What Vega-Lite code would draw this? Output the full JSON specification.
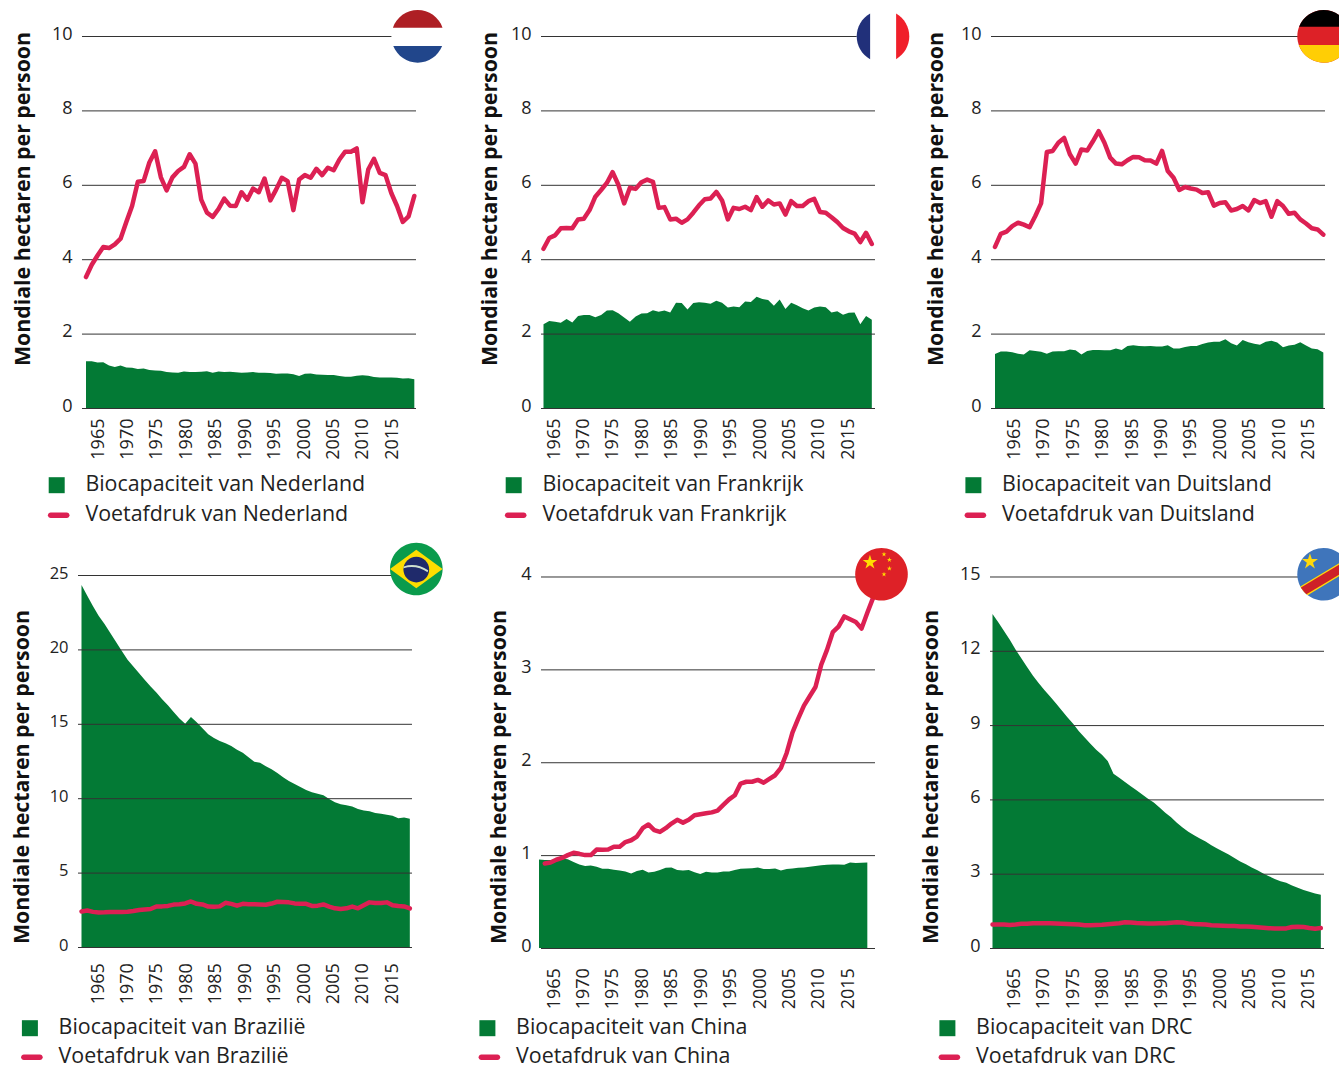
{"$schema":"https://vega.github.io/schema/vega-lite/v6.json","padding":{"left":11,"top":10,"right":0,"bottom":0},"background":"white","bounds":"flush","align":"each","columns":3,"spacing":{"row":167,"column":115},"resolve":{"scale":{"color":"independent","shape":"independent"}},
"config":{"view":{"stroke":null},"font":"Open Sans","axis":{"labelFont":"Open Sans","titleFont":"Open Sans","labelColor":"#222","titleColor":"#111"},"legend":{"labelFont":"Open Sans"}},
"datasets":{
"nl":[{"year":1961,"bio":1.26,"foot":3.52},{"year":1962,"bio":1.26,"foot":3.85},{"year":1963,"bio":1.22,"foot":4.1},{"year":1964,"bio":1.23,"foot":4.33},{"year":1965,"bio":1.14,"foot":4.3},{"year":1966,"bio":1.1,"foot":4.4},{"year":1967,"bio":1.14,"foot":4.55},{"year":1968,"bio":1.09,"foot":5.0},{"year":1969,"bio":1.085,"foot":5.43},{"year":1970,"bio":1.05,"foot":6.08},{"year":1971,"bio":1.06,"foot":6.1},{"year":1972,"bio":1.02,"foot":6.6},{"year":1973,"bio":1.01,"foot":6.9},{"year":1974,"bio":1.0,"foot":6.2},{"year":1975,"bio":0.97,"foot":5.85},{"year":1976,"bio":0.955,"foot":6.2},{"year":1977,"bio":0.95,"foot":6.37},{"year":1978,"bio":0.98,"foot":6.48},{"year":1979,"bio":0.97,"foot":6.82},{"year":1980,"bio":0.97,"foot":6.57},{"year":1981,"bio":0.975,"foot":5.6},{"year":1982,"bio":0.985,"foot":5.25},{"year":1983,"bio":0.95,"foot":5.14},{"year":1984,"bio":0.98,"foot":5.35},{"year":1985,"bio":0.97,"foot":5.63},{"year":1986,"bio":0.975,"foot":5.44},{"year":1987,"bio":0.96,"foot":5.43},{"year":1988,"bio":0.95,"foot":5.8},{"year":1989,"bio":0.955,"foot":5.6},{"year":1990,"bio":0.965,"foot":5.9},{"year":1991,"bio":0.945,"foot":5.8},{"year":1992,"bio":0.95,"foot":6.17},{"year":1993,"bio":0.94,"foot":5.58},{"year":1994,"bio":0.92,"foot":5.87},{"year":1995,"bio":0.925,"foot":6.19},{"year":1996,"bio":0.93,"foot":6.1},{"year":1997,"bio":0.905,"foot":5.32},{"year":1998,"bio":0.86,"foot":6.14},{"year":1999,"bio":0.92,"foot":6.26},{"year":2000,"bio":0.925,"foot":6.19},{"year":2001,"bio":0.9,"foot":6.43},{"year":2002,"bio":0.895,"foot":6.26},{"year":2003,"bio":0.89,"foot":6.46},{"year":2004,"bio":0.885,"foot":6.39},{"year":2005,"bio":0.86,"foot":6.68},{"year":2006,"bio":0.84,"foot":6.89},{"year":2007,"bio":0.84,"foot":6.89},{"year":2008,"bio":0.865,"foot":6.98},{"year":2009,"bio":0.88,"foot":5.53},{"year":2010,"bio":0.87,"foot":6.41},{"year":2011,"bio":0.83,"foot":6.7},{"year":2012,"bio":0.82,"foot":6.32},{"year":2013,"bio":0.82,"foot":6.26},{"year":2014,"bio":0.82,"foot":5.78},{"year":2015,"bio":0.81,"foot":5.43},{"year":2016,"bio":0.79,"foot":5.0},{"year":2017,"bio":0.8,"foot":5.15},{"year":2018,"bio":0.77,"foot":5.7}],
"fr":[{"year":1961,"bio":2.25,"foot":4.28},{"year":1962,"bio":2.34,"foot":4.57},{"year":1963,"bio":2.32,"foot":4.64},{"year":1964,"bio":2.29,"foot":4.83},{"year":1965,"bio":2.39,"foot":4.84},{"year":1966,"bio":2.3,"foot":4.83},{"year":1967,"bio":2.47,"foot":5.07},{"year":1968,"bio":2.5,"foot":5.09},{"year":1969,"bio":2.5,"foot":5.32},{"year":1970,"bio":2.44,"foot":5.68},{"year":1971,"bio":2.5,"foot":5.86},{"year":1972,"bio":2.62,"foot":6.05},{"year":1973,"bio":2.63,"foot":6.34},{"year":1974,"bio":2.55,"foot":6.0},{"year":1975,"bio":2.43,"foot":5.5},{"year":1976,"bio":2.32,"foot":5.92},{"year":1977,"bio":2.46,"foot":5.89},{"year":1978,"bio":2.54,"foot":6.07},{"year":1979,"bio":2.55,"foot":6.14},{"year":1980,"bio":2.63,"foot":6.08},{"year":1981,"bio":2.59,"foot":5.38},{"year":1982,"bio":2.62,"foot":5.4},{"year":1983,"bio":2.57,"foot":5.07},{"year":1984,"bio":2.83,"foot":5.09},{"year":1985,"bio":2.82,"foot":4.98},{"year":1986,"bio":2.65,"foot":5.07},{"year":1987,"bio":2.82,"foot":5.25},{"year":1988,"bio":2.84,"foot":5.45},{"year":1989,"bio":2.83,"foot":5.61},{"year":1990,"bio":2.8,"foot":5.63},{"year":1991,"bio":2.88,"foot":5.81},{"year":1992,"bio":2.83,"foot":5.58},{"year":1993,"bio":2.7,"foot":5.07},{"year":1994,"bio":2.73,"foot":5.38},{"year":1995,"bio":2.71,"foot":5.35},{"year":1996,"bio":2.86,"foot":5.41},{"year":1997,"bio":2.85,"foot":5.32},{"year":1998,"bio":2.99,"foot":5.67},{"year":1999,"bio":2.93,"foot":5.41},{"year":2000,"bio":2.9,"foot":5.58},{"year":2001,"bio":2.75,"foot":5.47},{"year":2002,"bio":2.92,"foot":5.5},{"year":2003,"bio":2.66,"foot":5.2},{"year":2004,"bio":2.83,"foot":5.56},{"year":2005,"bio":2.76,"foot":5.43},{"year":2006,"bio":2.68,"foot":5.43},{"year":2007,"bio":2.62,"foot":5.56},{"year":2008,"bio":2.7,"foot":5.62},{"year":2009,"bio":2.73,"foot":5.27},{"year":2010,"bio":2.71,"foot":5.25},{"year":2011,"bio":2.57,"foot":5.13},{"year":2012,"bio":2.6,"foot":5.0},{"year":2013,"bio":2.51,"foot":4.84},{"year":2014,"bio":2.56,"foot":4.75},{"year":2015,"bio":2.57,"foot":4.69},{"year":2016,"bio":2.25,"foot":4.46},{"year":2017,"bio":2.47,"foot":4.71},{"year":2018,"bio":2.37,"foot":4.41}],
"de":[{"year":1961,"bio":1.45,"foot":4.33},{"year":1962,"bio":1.52,"foot":4.68},{"year":1963,"bio":1.52,"foot":4.74},{"year":1964,"bio":1.5,"foot":4.89},{"year":1965,"bio":1.46,"foot":4.98},{"year":1966,"bio":1.44,"foot":4.93},{"year":1967,"bio":1.55,"foot":4.86},{"year":1968,"bio":1.53,"foot":5.16},{"year":1969,"bio":1.51,"foot":5.5},{"year":1970,"bio":1.46,"foot":6.88},{"year":1971,"bio":1.52,"foot":6.91},{"year":1972,"bio":1.525,"foot":7.13},{"year":1973,"bio":1.525,"foot":7.26},{"year":1974,"bio":1.57,"foot":6.82},{"year":1975,"bio":1.55,"foot":6.57},{"year":1976,"bio":1.44,"foot":6.95},{"year":1977,"bio":1.53,"foot":6.92},{"year":1978,"bio":1.56,"foot":7.17},{"year":1979,"bio":1.56,"foot":7.44},{"year":1980,"bio":1.55,"foot":7.13},{"year":1981,"bio":1.55,"foot":6.73},{"year":1982,"bio":1.6,"foot":6.57},{"year":1983,"bio":1.56,"foot":6.55},{"year":1984,"bio":1.67,"foot":6.66},{"year":1985,"bio":1.69,"foot":6.75},{"year":1986,"bio":1.67,"foot":6.74},{"year":1987,"bio":1.66,"foot":6.66},{"year":1988,"bio":1.67,"foot":6.65},{"year":1989,"bio":1.65,"foot":6.57},{"year":1990,"bio":1.65,"foot":6.91},{"year":1991,"bio":1.69,"foot":6.37},{"year":1992,"bio":1.6,"foot":6.19},{"year":1993,"bio":1.6,"foot":5.86},{"year":1994,"bio":1.64,"foot":5.94},{"year":1995,"bio":1.67,"foot":5.9},{"year":1996,"bio":1.67,"foot":5.87},{"year":1997,"bio":1.72,"foot":5.78},{"year":1998,"bio":1.76,"foot":5.8},{"year":1999,"bio":1.78,"foot":5.44},{"year":2000,"bio":1.78,"foot":5.51},{"year":2001,"bio":1.85,"foot":5.53},{"year":2002,"bio":1.74,"foot":5.31},{"year":2003,"bio":1.68,"foot":5.35},{"year":2004,"bio":1.83,"foot":5.43},{"year":2005,"bio":1.77,"foot":5.31},{"year":2006,"bio":1.73,"foot":5.59},{"year":2007,"bio":1.7,"foot":5.51},{"year":2008,"bio":1.78,"foot":5.56},{"year":2009,"bio":1.81,"foot":5.14},{"year":2010,"bio":1.76,"foot":5.56},{"year":2011,"bio":1.63,"foot":5.43},{"year":2012,"bio":1.68,"foot":5.22},{"year":2013,"bio":1.7,"foot":5.25},{"year":2014,"bio":1.77,"foot":5.07},{"year":2015,"bio":1.68,"foot":4.96},{"year":2016,"bio":1.6,"foot":4.83},{"year":2017,"bio":1.58,"foot":4.8},{"year":2018,"bio":1.49,"foot":4.66}],
"br":[{"year":1961,"bio":24.33,"foot":2.39},{"year":1962,"bio":23.6,"foot":2.45},{"year":1963,"bio":22.9,"foot":2.36},{"year":1964,"bio":22.24,"foot":2.32},{"year":1965,"bio":21.7,"foot":2.33},{"year":1966,"bio":21.1,"foot":2.36},{"year":1967,"bio":20.5,"foot":2.36},{"year":1968,"bio":19.9,"foot":2.36},{"year":1969,"bio":19.3,"foot":2.37},{"year":1970,"bio":18.85,"foot":2.42},{"year":1971,"bio":18.4,"foot":2.48},{"year":1972,"bio":17.95,"foot":2.52},{"year":1973,"bio":17.5,"foot":2.55},{"year":1974,"bio":17.1,"foot":2.72},{"year":1975,"bio":16.65,"foot":2.73},{"year":1976,"bio":16.25,"foot":2.76},{"year":1977,"bio":15.8,"foot":2.85},{"year":1978,"bio":15.35,"foot":2.88},{"year":1979,"bio":15.0,"foot":2.93},{"year":1980,"bio":15.45,"foot":3.06},{"year":1981,"bio":15.1,"foot":2.9},{"year":1982,"bio":14.7,"foot":2.86},{"year":1983,"bio":14.3,"foot":2.72},{"year":1984,"bio":14.05,"foot":2.7},{"year":1985,"bio":13.85,"foot":2.73},{"year":1986,"bio":13.7,"foot":2.97},{"year":1987,"bio":13.5,"foot":2.9},{"year":1988,"bio":13.25,"foot":2.78},{"year":1989,"bio":13.05,"foot":2.9},{"year":1990,"bio":12.75,"foot":2.88},{"year":1991,"bio":12.45,"foot":2.87},{"year":1992,"bio":12.38,"foot":2.86},{"year":1993,"bio":12.15,"foot":2.84},{"year":1994,"bio":11.95,"foot":2.92},{"year":1995,"bio":11.7,"foot":3.04},{"year":1996,"bio":11.4,"foot":3.02},{"year":1997,"bio":11.15,"foot":3.0},{"year":1998,"bio":10.95,"foot":2.93},{"year":1999,"bio":10.75,"foot":2.9},{"year":2000,"bio":10.55,"foot":2.9},{"year":2001,"bio":10.4,"foot":2.76},{"year":2002,"bio":10.3,"foot":2.78},{"year":2003,"bio":10.2,"foot":2.86},{"year":2004,"bio":9.95,"foot":2.72},{"year":2005,"bio":9.72,"foot":2.6},{"year":2006,"bio":9.6,"foot":2.55},{"year":2007,"bio":9.52,"foot":2.6},{"year":2008,"bio":9.45,"foot":2.72},{"year":2009,"bio":9.28,"foot":2.6},{"year":2010,"bio":9.18,"foot":2.8},{"year":2011,"bio":9.12,"foot":3.0},{"year":2012,"bio":9.0,"foot":2.95},{"year":2013,"bio":8.95,"foot":2.95},{"year":2014,"bio":8.88,"foot":3.0},{"year":2015,"bio":8.82,"foot":2.8},{"year":2016,"bio":8.65,"foot":2.75},{"year":2017,"bio":8.7,"foot":2.73},{"year":2018,"bio":8.62,"foot":2.59}],
"cn":[{"year":1961,"bio":0.953,"foot":null},{"year":1962,"bio":0.948,"foot":0.91},{"year":1963,"bio":0.948,"foot":0.92},{"year":1964,"bio":0.95,"foot":0.95},{"year":1965,"bio":0.964,"foot":0.97},{"year":1966,"bio":0.955,"foot":1.0},{"year":1967,"bio":0.925,"foot":1.025},{"year":1968,"bio":0.9,"foot":1.014},{"year":1969,"bio":0.882,"foot":1.0},{"year":1970,"bio":0.889,"foot":1.0},{"year":1971,"bio":0.875,"foot":1.06},{"year":1972,"bio":0.853,"foot":1.057},{"year":1973,"bio":0.853,"foot":1.06},{"year":1974,"bio":0.842,"foot":1.09},{"year":1975,"bio":0.835,"foot":1.09},{"year":1976,"bio":0.824,"foot":1.14},{"year":1977,"bio":0.803,"foot":1.16},{"year":1978,"bio":0.828,"foot":1.2},{"year":1979,"bio":0.842,"foot":1.29},{"year":1980,"bio":0.814,"foot":1.33},{"year":1981,"bio":0.82,"foot":1.27},{"year":1982,"bio":0.839,"foot":1.25},{"year":1983,"bio":0.864,"foot":1.29},{"year":1984,"bio":0.867,"foot":1.34},{"year":1985,"bio":0.839,"foot":1.38},{"year":1986,"bio":0.835,"foot":1.35},{"year":1987,"bio":0.839,"foot":1.38},{"year":1988,"bio":0.815,"foot":1.43},{"year":1989,"bio":0.796,"foot":1.44},{"year":1990,"bio":0.82,"foot":1.45},{"year":1991,"bio":0.814,"foot":1.46},{"year":1992,"bio":0.814,"foot":1.48},{"year":1993,"bio":0.824,"foot":1.54},{"year":1994,"bio":0.825,"foot":1.6},{"year":1995,"bio":0.84,"foot":1.645},{"year":1996,"bio":0.853,"foot":1.77},{"year":1997,"bio":0.856,"foot":1.79},{"year":1998,"bio":0.86,"foot":1.79},{"year":1999,"bio":0.867,"foot":1.81},{"year":2000,"bio":0.85,"foot":1.78},{"year":2001,"bio":0.85,"foot":1.82},{"year":2002,"bio":0.857,"foot":1.86},{"year":2003,"bio":0.835,"foot":1.94},{"year":2004,"bio":0.85,"foot":2.1},{"year":2005,"bio":0.855,"foot":2.32},{"year":2006,"bio":0.864,"foot":2.47},{"year":2007,"bio":0.866,"foot":2.61},{"year":2008,"bio":0.875,"foot":2.71},{"year":2009,"bio":0.882,"foot":2.81},{"year":2010,"bio":0.892,"foot":3.05},{"year":2011,"bio":0.895,"foot":3.21},{"year":2012,"bio":0.9,"foot":3.4},{"year":2013,"bio":0.9,"foot":3.46},{"year":2014,"bio":0.896,"foot":3.57},{"year":2015,"bio":0.921,"foot":3.54},{"year":2016,"bio":0.914,"foot":3.51},{"year":2017,"bio":0.917,"foot":3.44},{"year":2018,"bio":0.921,"foot":3.61},{"year":2019,"bio":null,"foot":3.77}],
"cd":[{"year":1961,"bio":13.49,"foot":0.95},{"year":1962,"bio":13.15,"foot":0.95},{"year":1963,"bio":12.8,"foot":0.95},{"year":1964,"bio":12.45,"foot":0.93},{"year":1965,"bio":12.05,"foot":0.95},{"year":1966,"bio":11.7,"foot":0.98},{"year":1967,"bio":11.35,"foot":0.98},{"year":1968,"bio":11.0,"foot":1.0},{"year":1969,"bio":10.7,"foot":1.0},{"year":1970,"bio":10.42,"foot":1.0},{"year":1971,"bio":10.15,"foot":1.0},{"year":1972,"bio":9.88,"foot":0.99},{"year":1973,"bio":9.6,"foot":0.98},{"year":1974,"bio":9.32,"foot":0.97},{"year":1975,"bio":9.05,"foot":0.96},{"year":1976,"bio":8.75,"foot":0.95},{"year":1977,"bio":8.5,"foot":0.92},{"year":1978,"bio":8.25,"foot":0.92},{"year":1979,"bio":8.0,"foot":0.93},{"year":1980,"bio":7.8,"foot":0.94},{"year":1981,"bio":7.55,"foot":0.96},{"year":1982,"bio":7.04,"foot":0.98},{"year":1983,"bio":6.87,"foot":1.0},{"year":1984,"bio":6.7,"foot":1.04},{"year":1985,"bio":6.53,"foot":1.03},{"year":1986,"bio":6.37,"foot":1.01},{"year":1987,"bio":6.2,"foot":1.0},{"year":1988,"bio":6.03,"foot":0.99},{"year":1989,"bio":5.87,"foot":0.99},{"year":1990,"bio":5.67,"foot":1.0},{"year":1991,"bio":5.46,"foot":1.0},{"year":1992,"bio":5.28,"foot":1.02},{"year":1993,"bio":5.06,"foot":1.04},{"year":1994,"bio":4.87,"foot":1.03},{"year":1995,"bio":4.69,"foot":0.99},{"year":1996,"bio":4.55,"foot":0.97},{"year":1997,"bio":4.42,"foot":0.96},{"year":1998,"bio":4.3,"foot":0.95},{"year":1999,"bio":4.15,"foot":0.92},{"year":2000,"bio":4.02,"foot":0.91},{"year":2001,"bio":3.9,"foot":0.9},{"year":2002,"bio":3.78,"foot":0.89},{"year":2003,"bio":3.63,"foot":0.885},{"year":2004,"bio":3.49,"foot":0.87},{"year":2005,"bio":3.38,"foot":0.87},{"year":2006,"bio":3.25,"foot":0.86},{"year":2007,"bio":3.14,"foot":0.84},{"year":2008,"bio":3.01,"foot":0.82},{"year":2009,"bio":2.9,"foot":0.8},{"year":2010,"bio":2.79,"foot":0.79},{"year":2011,"bio":2.7,"foot":0.79},{"year":2012,"bio":2.63,"foot":0.79},{"year":2013,"bio":2.52,"foot":0.85},{"year":2014,"bio":2.43,"foot":0.86},{"year":2015,"bio":2.34,"foot":0.85},{"year":2016,"bio":2.27,"foot":0.81},{"year":2017,"bio":2.2,"foot":0.78},{"year":2018,"bio":2.15,"foot":0.81}]
},
"concat":[
{"width":348,"height":372,"resolve":{"scale":{"x":"independent"},"axis":{"x":"independent","y":"independent"}},"layer":[
{"data":{"values":[{"reeks":"Biocapaciteit van Nederland"},{"reeks":"Voetafdruk van Nederland"}]},"mark":{"type":"point","filled":true,"opacity":1},"encoding":{"size":{"value":0},"x":{"datum":1990,"type":"quantitative","scale":{"domain":[1961.602,2020.726],"nice":false,"zero":false},"axis":{"values":[1965,1970,1975,1980,1985,1990,1995,2000,2005,2010,2015],"format":"d","title":null,"domain":false,"ticks":false,"grid":false,"labelAngle":-90,"labelAlign":"right","labelBaseline":"middle","labelFontSize":18,"labelPadding":10}},"y":{"datum":5,"type":"quantitative","scale":{"domain":[0,10],"nice":false},"axis":{"values":[0,2,4,6,8,10],"domain":false,"ticks":false,"grid":false,"labelFontSize":18,"labelPadding":6,"labelOffset":-2,"title":"Mondiale hectaren per persoon","titleFontSize":21.3,"titleFontWeight":"bold","titleX":-55,"titleY":162.5,"titleBaseline":"middle","titleAlign":"center"}},"color":{"field":"reeks","type":"nominal","scale":{"domain":["Biocapaciteit van Nederland","Voetafdruk van Nederland"],"range":["#037A35","#DC2053"]},"legend":{"title":null,"orient":"none","legendX":-30,"legendY":438.5,"symbolOpacity":1,"symbolSize":256,"symbolStrokeWidth":0,"labelFontSize":21.4,"labelLimit":400,"labelColor":"#222","labelOffset":16,"rowPadding":7,"padding":0}},"shape":{"field":"reeks","type":"nominal","scale":{"domain":["Biocapaciteit van Nederland","Voetafdruk van Nederland"],"range":["M-1.25,-1H0.75V1H-1.25Z","M-1,-0.35H1A0.35,0.35,0,0,1,1,0.35H-1A0.35,0.35,0,0,1,-1,-0.35Z"]}}}},
{"encoding":{"x":{"field":"year","type":"quantitative","scale":{"domain":[1959.611,2020.028],"nice":false,"zero":false},"axis":null}},"layer":[
{"data":{"name":"nl"},"mark":{"type":"area","color":"#037A35"},"encoding":{"y":{"field":"bio","type":"quantitative","axis":null,"scale":{"domain":[0,10],"nice":false}},"y2":{"datum":0}}},
{"data":{"values":[{"year":1960.305,"year2":2018.292,"tick":0},{"year":1960.305,"year2":2018.292,"tick":2},{"year":1960.305,"year2":2018.292,"tick":4},{"year":1960.305,"year2":2018.292,"tick":6},{"year":1960.305,"year2":2018.292,"tick":8},{"year":1960.305,"year2":2018.292,"tick":10}]},"mark":{"type":"rule","color":"#333","strokeWidth":1,"yOffset":0.5},"encoding":{"x2":{"field":"year2"},"y":{"field":"tick","type":"quantitative","axis":null}}},
{"data":{"name":"nl"},"mark":{"type":"line","color":"#DC2053","strokeWidth":4.5,"strokeCap":"round","strokeJoin":"round"},"encoding":{"y":{"field":"foot","type":"quantitative","axis":null}}},
{"data":{"values":[{"year":2018.587,"val":9.99}]},"encoding":{"y":{"field":"val","type":"quantitative","axis":null},"size":{"value":2766}},"layer":[
{"mark":{"type":"point","filled":true,"opacity":1,"strokeWidth":0,"color":"#FFFFFF","shape":"M-1,0A1,1,0,1,1,1,0A1,1,0,1,1,-1,0Z"}},
{"mark":{"type":"point","filled":true,"opacity":1,"strokeWidth":0,"color":"#AE1F24","shape":"M-0.944,-0.33A1,1,0,0,1,0.944,-0.33Z"}},
{"mark":{"type":"point","filled":true,"opacity":1,"strokeWidth":0,"color":"#21468B","shape":"M0.929,0.37A1,1,0,0,1,-0.929,0.37Z"}}]}
]}]},
{"width":334,"height":372,"resolve":{"scale":{"x":"independent"},"axis":{"x":"independent","y":"independent"}},"layer":[
{"data":{"values":[{"reeks":"Biocapaciteit van Frankrijk"},{"reeks":"Voetafdruk van Frankrijk"}]},"mark":{"type":"point","filled":true,"opacity":1},"encoding":{"size":{"value":0},"x":{"datum":1990,"type":"quantitative","scale":{"domain":[1962.791,2019.536],"nice":false,"zero":false},"axis":{"values":[1965,1970,1975,1980,1985,1990,1995,2000,2005,2010,2015],"format":"d","title":null,"domain":false,"ticks":false,"grid":false,"labelAngle":-90,"labelAlign":"right","labelBaseline":"middle","labelFontSize":18,"labelPadding":10}},"y":{"datum":5,"type":"quantitative","scale":{"domain":[0,10],"nice":false},"axis":{"values":[0,2,4,6,8,10],"domain":false,"ticks":false,"grid":false,"labelFontSize":18,"labelPadding":10,"labelOffset":-2,"title":"Mondiale hectaren per persoon","titleFontSize":21.3,"titleFontWeight":"bold","titleX":-51,"titleY":162.5,"titleBaseline":"middle","titleAlign":"center"}},"color":{"field":"reeks","type":"nominal","scale":{"domain":["Biocapaciteit van Frankrijk","Voetafdruk van Frankrijk"],"range":["#037A35","#DC2053"]},"legend":{"title":null,"orient":"none","legendX":-36,"legendY":438.5,"symbolOpacity":1,"symbolSize":256,"symbolStrokeWidth":0,"labelFontSize":21.4,"labelLimit":400,"labelColor":"#222","labelOffset":16,"rowPadding":7,"padding":0}},"shape":{"field":"reeks","type":"nominal","scale":{"domain":["Biocapaciteit van Frankrijk","Voetafdruk van Frankrijk"],"range":["M-1.25,-1H0.75V1H-1.25Z","M-1,-0.35H1A0.35,0.35,0,0,1,1,0.35H-1A0.35,0.35,0,0,1,-1,-0.35Z"]}}}},
{"encoding":{"x":{"field":"year","type":"quantitative","scale":{"domain":[1960.566,2018.552],"nice":false,"zero":false},"axis":null}},"layer":[
{"data":{"name":"fr"},"mark":{"type":"area","color":"#037A35"},"encoding":{"y":{"field":"bio","type":"quantitative","axis":null,"scale":{"domain":[0,10],"nice":false}},"y2":{"datum":0}}},
{"data":{"values":[{"year":1960.566,"year2":2018.552,"tick":0},{"year":1960.566,"year2":2018.552,"tick":2},{"year":1960.566,"year2":2018.552,"tick":4},{"year":1960.566,"year2":2018.552,"tick":6},{"year":1960.566,"year2":2018.552,"tick":8},{"year":1960.566,"year2":2018.552,"tick":10}]},"mark":{"type":"rule","color":"#333","strokeWidth":1,"yOffset":0.5},"encoding":{"x2":{"field":"year2"},"y":{"field":"tick","type":"quantitative","axis":null}}},
{"data":{"name":"fr"},"mark":{"type":"line","color":"#DC2053","strokeWidth":4.5,"strokeCap":"round","strokeJoin":"round"},"encoding":{"y":{"field":"foot","type":"quantitative","axis":null}}},
{"data":{"values":[{"year":2019.941,"val":9.99}]},"encoding":{"y":{"field":"val","type":"quantitative","axis":null},"size":{"value":2766}},"layer":[
{"mark":{"type":"point","filled":true,"opacity":1,"strokeWidth":0,"color":"#FFFFFF","shape":"M-1,0A1,1,0,1,1,1,0A1,1,0,1,1,-1,0Z"}},
{"mark":{"type":"point","filled":true,"opacity":1,"strokeWidth":0,"color":"#21307A","shape":"M-0.49,0.872A1,1,0,0,1,-0.49,-0.872Z"}},
{"mark":{"type":"point","filled":true,"opacity":1,"strokeWidth":0,"color":"#F01F2A","shape":"M0.5,-0.866A1,1,0,0,1,0.5,0.866Z"}}]}
]}]},
{"width":349,"height":372,"resolve":{"scale":{"x":"independent"},"axis":{"x":"independent","y":"independent"}},"layer":[
{"data":{"values":[{"reeks":"Biocapaciteit van Duitsland"},{"reeks":"Voetafdruk van Duitsland"}]},"mark":{"type":"point","filled":true,"opacity":1},"encoding":{"size":{"value":0},"x":{"datum":1990,"type":"quantitative","scale":{"domain":[1960.932,2020.085],"nice":false,"zero":false},"axis":{"values":[1965,1970,1975,1980,1985,1990,1995,2000,2005,2010,2015],"format":"d","title":null,"domain":false,"ticks":false,"grid":false,"labelAngle":-90,"labelAlign":"right","labelBaseline":"middle","labelFontSize":18,"labelPadding":10}},"y":{"datum":5,"type":"quantitative","scale":{"domain":[0,10],"nice":false},"axis":{"values":[0,2,4,6,8,10],"domain":false,"ticks":false,"grid":false,"labelFontSize":18,"labelPadding":9,"labelOffset":-2,"title":"Mondiale hectaren per persoon","titleFontSize":21.3,"titleFontWeight":"bold","titleX":-54,"titleY":162.5,"titleBaseline":"middle","titleAlign":"center"}},"color":{"field":"reeks","type":"nominal","scale":{"domain":["Biocapaciteit van Duitsland","Voetafdruk van Duitsland"],"range":["#037A35","#DC2053"]},"legend":{"title":null,"orient":"none","legendX":-25.3,"legendY":438.5,"symbolOpacity":1,"symbolSize":256,"symbolStrokeWidth":0,"labelFontSize":21.4,"labelLimit":400,"labelColor":"#222","labelOffset":16,"rowPadding":7,"padding":0}},"shape":{"field":"reeks","type":"nominal","scale":{"domain":["Biocapaciteit van Duitsland","Voetafdruk van Duitsland"],"range":["M-1.25,-1H0.75V1H-1.25Z","M-1,-0.35H1A0.35,0.35,0,0,1,1,0.35H-1A0.35,0.35,0,0,1,-1,-0.35Z"]}}}},
{"encoding":{"x":{"field":"year","type":"quantitative","scale":{"domain":[1960.132,2020.722],"nice":false,"zero":false},"axis":null}},"layer":[
{"data":{"name":"de"},"mark":{"type":"area","color":"#037A35"},"encoding":{"y":{"field":"bio","type":"quantitative","axis":null,"scale":{"domain":[0,10],"nice":false}},"y2":{"datum":0}}},
{"data":{"values":[{"year":1960.306,"year2":2018.292,"tick":0},{"year":1960.306,"year2":2018.292,"tick":2},{"year":1960.306,"year2":2018.292,"tick":4},{"year":1960.306,"year2":2018.292,"tick":6},{"year":1960.306,"year2":2018.292,"tick":8},{"year":1960.306,"year2":2018.292,"tick":10}]},"mark":{"type":"rule","color":"#333","strokeWidth":1,"yOffset":0.5},"encoding":{"x2":{"field":"year2"},"y":{"field":"tick","type":"quantitative","axis":null}}},
{"data":{"name":"de"},"mark":{"type":"line","color":"#DC2053","strokeWidth":4.5,"strokeCap":"round","strokeJoin":"round"},"encoding":{"y":{"field":"foot","type":"quantitative","axis":null}}},
{"data":{"values":[{"year":2018.049,"val":9.99}]},"encoding":{"y":{"field":"val","type":"quantitative","axis":null},"size":{"value":2766}},"layer":[
{"mark":{"type":"point","filled":true,"opacity":1,"strokeWidth":0,"color":"#DD2127","shape":"M-1,0A1,1,0,1,1,1,0A1,1,0,1,1,-1,0Z"}},
{"mark":{"type":"point","filled":true,"opacity":1,"strokeWidth":0,"color":"#000000","shape":"M-0.931,-0.365A1,1,0,0,1,0.931,-0.365Z"}},
{"mark":{"type":"point","filled":true,"opacity":1,"strokeWidth":0,"color":"#FFCE05","shape":"M0.944,0.33A1,1,0,0,1,-0.944,0.33Z"}}]}
]}]},
{"width":348,"height":373,"resolve":{"scale":{"x":"independent"},"axis":{"x":"independent","y":"independent"}},"layer":[
{"data":{"values":[{"reeks":"Biocapaciteit van Brazilië"},{"reeks":"Voetafdruk van Brazilië"}]},"mark":{"type":"point","filled":true,"opacity":1},"encoding":{"size":{"value":0},"x":{"datum":1990,"type":"quantitative","scale":{"domain":[1961.602,2020.726],"nice":false,"zero":false},"axis":{"values":[1965,1970,1975,1980,1985,1990,1995,2000,2005,2010,2015],"format":"d","title":null,"domain":false,"ticks":false,"grid":false,"labelAngle":-90,"labelAlign":"right","labelBaseline":"middle","labelFontSize":18,"labelPadding":14.7}},"y":{"datum":5,"type":"quantitative","scale":{"domain":[-0.0672,25],"nice":false,"zero":false},"axis":{"values":[0,5,10,15,20,25],"domain":false,"ticks":false,"grid":false,"labelFontSize":16.5,"labelPadding":10,"labelOffset":-2,"title":"Mondiale hectaren per persoon","titleFontSize":21.3,"titleFontWeight":"bold","titleX":-56,"titleY":201.5,"titleBaseline":"middle","titleAlign":"center"}},"color":{"field":"reeks","type":"nominal","scale":{"domain":["Biocapaciteit van Brazilië","Voetafdruk van Brazilië"],"range":["#037A35","#DC2053"]},"legend":{"title":null,"orient":"none","legendX":-56.8,"legendY":442.5,"symbolOpacity":1,"symbolSize":256,"symbolStrokeWidth":0,"labelFontSize":21.4,"labelLimit":400,"labelColor":"#222","labelOffset":16,"rowPadding":6,"padding":0}},"shape":{"field":"reeks","type":"nominal","scale":{"domain":["Biocapaciteit van Brazilië","Voetafdruk van Brazilië"],"range":["M-1.25,-1H0.75V1H-1.25Z","M-1,-0.35H1A0.35,0.35,0,0,1,1,0.35H-1A0.35,0.35,0,0,1,-1,-0.35Z"]}}}},
{"encoding":{"x":{"field":"year","type":"quantitative","scale":{"domain":[1960.392,2020.809],"nice":false,"zero":false},"axis":null}},"layer":[
{"data":{"name":"br"},"mark":{"type":"area","color":"#037A35"},"encoding":{"y":{"field":"bio","type":"quantitative","axis":null,"scale":{"domain":[-0.0672,25],"nice":false,"zero":false}},"y2":{"datum":0}}},
{"data":{"values":[{"year":1960.392,"year2":2018.378,"tick":0},{"year":1960.392,"year2":2018.378,"tick":5},{"year":1960.392,"year2":2018.378,"tick":10},{"year":1960.392,"year2":2018.378,"tick":15},{"year":1960.392,"year2":2018.378,"tick":20},{"year":1960.392,"year2":2018.378,"tick":25}]},"mark":{"type":"rule","color":"#333","strokeWidth":1,"yOffset":0.5},"encoding":{"x2":{"field":"year2"},"y":{"field":"tick","type":"quantitative","axis":null}}},
{"data":{"name":"br"},"mark":{"type":"line","color":"#DC2053","strokeWidth":4.5,"strokeCap":"round","strokeJoin":"round"},"encoding":{"y":{"field":"foot","type":"quantitative","axis":null}}},
{"data":{"values":[{"year":2019.125,"val":25.4}]},"encoding":{"y":{"field":"val","type":"quantitative","axis":null},"size":{"value":2766}},"layer":[
{"mark":{"type":"point","filled":true,"opacity":1,"strokeWidth":0,"color":"#0A9B4C","shape":"M-1,0A1,1,0,1,1,1,0A1,1,0,1,1,-1,0Z"}},
{"mark":{"type":"point","filled":true,"opacity":1,"strokeWidth":0,"color":"#FEDD00","shape":"M-1,0L0,-0.73L1,0L0,0.73Z"}},
{"mark":{"type":"point","filled":true,"opacity":1,"strokeWidth":0,"color":"#1F2A6B","shape":"M-0.49,0.02A0.49,0.49,0,1,1,0.49,0.02A0.49,0.49,0,1,1,-0.49,0.02Z"}},
{"mark":{"type":"point","filled":true,"opacity":1,"strokeWidth":0,"color":"#CFE0D0","shape":"M-0.48,-0.1Q0,-0.25,0.45,0.05L0.43,0.12Q0,-0.17,-0.49,-0.03Z"}}]}
]}]},
{"width":334,"height":373,"resolve":{"scale":{"x":"independent"},"axis":{"x":"independent","y":"independent"}},"layer":[
{"data":{"values":[{"reeks":"Biocapaciteit van China"},{"reeks":"Voetafdruk van China"}]},"mark":{"type":"point","filled":true,"opacity":1},"encoding":{"size":{"value":0},"x":{"datum":1990,"type":"quantitative","scale":{"domain":[1962.791,2019.536],"nice":false,"zero":false},"axis":{"values":[1965,1970,1975,1980,1985,1990,1995,2000,2005,2010,2015],"format":"d","title":null,"domain":false,"ticks":false,"grid":false,"labelAngle":-90,"labelAlign":"right","labelBaseline":"middle","labelFontSize":18,"labelPadding":19.7}},"y":{"datum":2,"type":"quantitative","scale":{"domain":[0,4.016],"nice":false},"axis":{"values":[0,1,2,3,4],"domain":false,"ticks":false,"grid":false,"labelFontSize":18,"labelPadding":10,"labelOffset":-2,"title":"Mondiale hectaren per persoon","titleFontSize":21.3,"titleFontWeight":"bold","titleX":-42,"titleY":201.5,"titleBaseline":"middle","titleAlign":"center"}},"color":{"field":"reeks","type":"nominal","scale":{"domain":["Biocapaciteit van China","Voetafdruk van China"],"range":["#037A35","#DC2053"]},"legend":{"title":null,"orient":"none","legendX":-62.3,"legendY":442.5,"symbolOpacity":1,"symbolSize":256,"symbolStrokeWidth":0,"labelFontSize":21.4,"labelLimit":400,"labelColor":"#222","labelOffset":16,"rowPadding":6,"padding":0}},"shape":{"field":"reeks","type":"nominal","scale":{"domain":["Biocapaciteit van China","Voetafdruk van China"],"range":["M-1.25,-1H0.75V1H-1.25Z","M-1,-0.35H1A0.35,0.35,0,0,1,1,0.35H-1A0.35,0.35,0,0,1,-1,-0.35Z"]}}}},
{"encoding":{"x":{"field":"year","type":"quantitative","scale":{"domain":[1961.347,2019.333],"nice":false,"zero":false},"axis":null}},"layer":[
{"data":{"name":"cn"},"mark":{"type":"area","color":"#037A35"},"encoding":{"y":{"field":"bio","type":"quantitative","axis":null,"scale":{"domain":[0,4.016],"nice":false}},"y2":{"datum":0}}},
{"data":{"values":[{"year":1961.347,"year2":2019.333,"tick":0},{"year":1961.347,"year2":2019.333,"tick":1},{"year":1961.347,"year2":2019.333,"tick":2},{"year":1961.347,"year2":2019.333,"tick":3},{"year":1961.347,"year2":2019.333,"tick":4}]},"mark":{"type":"rule","color":"#333","strokeWidth":1,"yOffset":0.5},"encoding":{"x2":{"field":"year2"},"y":{"field":"tick","type":"quantitative","axis":null}}},
{"data":{"name":"cn"},"mark":{"type":"line","color":"#DC2053","strokeWidth":4.5,"strokeCap":"round","strokeJoin":"round"},"encoding":{"y":{"field":"foot","type":"quantitative","axis":null}}},
{"data":{"values":[{"year":2020.462,"val":4.024}]},"encoding":{"y":{"field":"val","type":"quantitative","axis":null},"size":{"value":2766}},"layer":[
{"mark":{"type":"point","filled":true,"opacity":1,"strokeWidth":0,"color":"#DE2127","shape":"M-1,0A1,1,0,1,1,1,0A1,1,0,1,1,-1,0Z"}},
{"mark":{"type":"point","filled":true,"opacity":1,"strokeWidth":0,"color":"#FFDE00","shape":"M-0.44,-0.74L-0.375,-0.54L-0.164,-0.54L-0.335,-0.416L-0.269,-0.215L-0.44,-0.339L-0.611,-0.215L-0.545,-0.416L-0.716,-0.54L-0.505,-0.54ZM0.095,-0.86L0.117,-0.791L0.19,-0.791L0.131,-0.748L0.154,-0.679L0.095,-0.722L0.036,-0.679L0.059,-0.748L0,-0.791L0.073,-0.791ZM0.3,-0.65L0.322,-0.581L0.395,-0.581L0.336,-0.538L0.359,-0.469L0.3,-0.512L0.241,-0.469L0.264,-0.538L0.205,-0.581L0.278,-0.581ZM0.3,-0.32L0.322,-0.251L0.395,-0.251L0.336,-0.208L0.359,-0.139L0.3,-0.182L0.241,-0.139L0.264,-0.208L0.205,-0.251L0.278,-0.251ZM0.095,-0.1L0.117,-0.031L0.19,-0.031L0.131,0.012L0.154,0.081L0.095,0.038L0.036,0.081L0.059,0.012L0,-0.031L0.073,-0.031Z"}}]}
]}]},
{"width":349,"height":373,"resolve":{"scale":{"x":"independent"},"axis":{"x":"independent","y":"independent"}},"layer":[
{"data":{"values":[{"reeks":"Biocapaciteit van DRC"},{"reeks":"Voetafdruk van DRC"}]},"mark":{"type":"point","filled":true,"opacity":1},"encoding":{"size":{"value":0},"x":{"datum":1990,"type":"quantitative","scale":{"domain":[1960.932,2020.085],"nice":false,"zero":false},"axis":{"values":[1965,1970,1975,1980,1985,1990,1995,2000,2005,2010,2015],"format":"d","title":null,"domain":false,"ticks":false,"grid":false,"labelAngle":-90,"labelAlign":"right","labelBaseline":"middle","labelFontSize":18,"labelPadding":19.7}},"y":{"datum":5,"type":"quantitative","scale":{"domain":[0,15.06],"nice":false},"axis":{"values":[0,3,6,9,12,15],"domain":false,"ticks":false,"grid":false,"labelFontSize":18,"labelPadding":10,"labelOffset":-2,"title":"Mondiale hectaren per persoon","titleFontSize":21.3,"titleFontWeight":"bold","titleX":-59,"titleY":201.5,"titleBaseline":"middle","titleAlign":"center"}},"color":{"field":"reeks","type":"nominal","scale":{"domain":["Biocapaciteit van DRC","Voetafdruk van DRC"],"range":["#037A35","#DC2053"]},"legend":{"title":null,"orient":"none","legendX":-51.3,"legendY":442.5,"symbolOpacity":1,"symbolSize":256,"symbolStrokeWidth":0,"labelFontSize":21.4,"labelLimit":400,"labelColor":"#222","labelOffset":16,"rowPadding":6,"padding":0}},"shape":{"field":"reeks","type":"nominal","scale":{"domain":["Biocapaciteit van DRC","Voetafdruk van DRC"],"range":["M-1.25,-1H0.75V1H-1.25Z","M-1,-0.35H1A0.35,0.35,0,0,1,1,0.35H-1A0.35,0.35,0,0,1,-1,-0.35Z"]}}}},
{"encoding":{"x":{"field":"year","type":"quantitative","scale":{"domain":[1960.566,2021.156],"nice":false,"zero":false},"axis":null}},"layer":[
{"data":{"name":"cd"},"mark":{"type":"area","color":"#037A35"},"encoding":{"y":{"field":"bio","type":"quantitative","axis":null,"scale":{"domain":[0,15.06],"nice":false}},"y2":{"datum":0}}},
{"data":{"values":[{"year":1960.566,"year2":2018.552,"tick":0},{"year":1960.566,"year2":2018.552,"tick":3},{"year":1960.566,"year2":2018.552,"tick":6},{"year":1960.566,"year2":2018.552,"tick":9},{"year":1960.566,"year2":2018.552,"tick":12},{"year":1960.566,"year2":2018.552,"tick":15}]},"mark":{"type":"rule","color":"#333","strokeWidth":1,"yOffset":0.5},"encoding":{"x2":{"field":"year2"},"y":{"field":"tick","type":"quantitative","axis":null}}},
{"data":{"name":"cd"},"mark":{"type":"line","color":"#DC2053","strokeWidth":4.5,"strokeCap":"round","strokeJoin":"round"},"encoding":{"y":{"field":"foot","type":"quantitative","axis":null}}},
{"data":{"values":[{"year":2018.483,"val":15.09}]},"encoding":{"y":{"field":"val","type":"quantitative","axis":null},"size":{"value":2766}},"layer":[
{"mark":{"type":"point","filled":true,"opacity":1,"strokeWidth":0,"color":"#3F75BB","shape":"M-1,0A1,1,0,1,1,1,0A1,1,0,1,1,-1,0Z"}},
{"mark":{"type":"point","filled":true,"opacity":1,"strokeWidth":0,"color":"#FFD80B","shape":"M-0.887,0.462L0.825,-0.565A1,1,0,0,1,0.987,-0.162L-0.607,0.794A1,1,0,0,1,-0.887,0.462ZM-0.52,-0.8L-0.448,-0.579L-0.216,-0.579L-0.404,-0.442L-0.332,-0.221L-0.52,-0.358L-0.708,-0.221L-0.636,-0.442L-0.824,-0.579L-0.592,-0.579Z"}},
{"mark":{"type":"point","filled":true,"opacity":1,"strokeWidth":0,"color":"#CE2028","shape":"M-0.862,0.507L0.853,-0.522A1,1,0,0,1,0.976,-0.216L-0.65,0.76A1,1,0,0,1,-0.862,0.507Z"}}]}
]}]}
]}
